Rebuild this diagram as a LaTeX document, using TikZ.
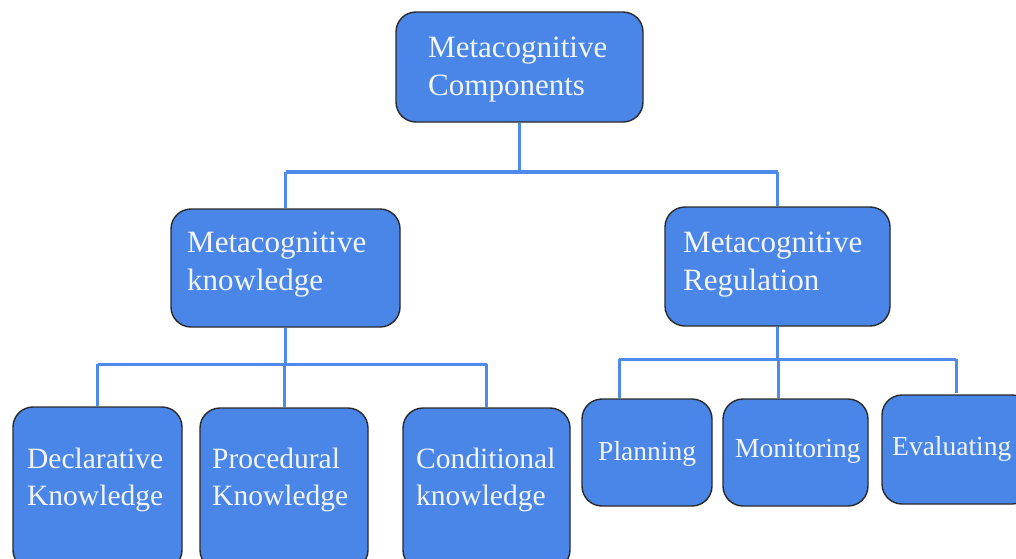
\documentclass[tikz,border=0pt]{standalone}
\usepackage{fontspec}
\setmainfont{Liberation Serif}
\usetikzlibrary{calc}
\definecolor{boxblue}{HTML}{4A86E8}
\definecolor{linkblue}{HTML}{4D8AEC}
\definecolor{edgegray}{HTML}{2A2A2A}
\definecolor{txtwhite}{HTML}{F3F5FA}
\begin{document}
\begin{tikzpicture}[x=1pt,y=-1pt,
  box/.style={draw=edgegray, line width=1.4pt, fill=boxblue, rounded corners=20pt, inner sep=0pt},
  lbl/.style={text=txtwhite, inner sep=0pt, align=left, font=\fontsize{31}{38}\selectfont},
  lblmd/.style={text=txtwhite, inner sep=0pt, align=left, font=\fontsize{29.5}{37}\selectfont},
  lblsm/.style={text=txtwhite, inner sep=0pt, align=left, font=\fontsize{27.5}{37}\selectfont},
  stem/.style={draw=linkblue, line width=3pt},
  bar/.style={draw=linkblue, line width=4.5pt}]
\clip (0,0) rectangle (1016,558);
\fill[white] (0,0) rectangle (1016,558);

% boxes
\node[box, minimum width=247pt, minimum height=110pt] (top) at (519.5,67) {};
\node[box, minimum width=229pt, minimum height=118pt] (mk) at (285.5,268) {};
\node[box, minimum width=225pt, minimum height=119pt] (mr) at (777.5,266.5) {};
\node[box, minimum width=169pt, minimum height=163pt] (dec) at (97.5,488.5) {};
\node[box, minimum width=168pt, minimum height=162pt] (pro) at (284,489) {};
\node[box, minimum width=167pt, minimum height=162pt] (con) at (486.5,489) {};
\node[box, minimum width=130pt, minimum height=107pt] (plan) at (647,452.5) {};
\node[box, minimum width=145pt, minimum height=107pt] (mon) at (795.5,452.5) {};
\node[box, minimum width=150pt, minimum height=109pt] (eva) at (957,449.5) {};

% labels (base anchor sits on the last line)
\node[lbl, anchor=base west] (topT) at (428,95) {Metacognitive\\Components};
\node[lbl, anchor=base west] (mkT) at (187,290) {Metacognitive\\knowledge};
\node[lbl, anchor=base west] (mrT) at (683,290) {Metacognitive\\Regulation};
\node[lblmd, anchor=base west] (decT) at (27,505) {Declarative\\Knowledge};
\node[lblmd, anchor=base west] (proT) at (212,505) {Procedural\\Knowledge};
\node[lblmd, anchor=base west] (conT) at (416,505) {Conditional\\knowledge};
\node[lblsm, anchor=base west] (planT) at (598,460) {Planning};
\node[lblsm, anchor=base west] (monT) at (735,457) {Monitoring};
\node[lblsm, anchor=base west] (evaT) at (892,455) {Evaluating};

% connector buses
\coordinate (busA) at (0,172);
\coordinate (busB) at (0,364);
\coordinate (busC) at (0,359);
\coordinate (planIn) at ($(plan.north west)+(38,0)$);
\coordinate (monIn) at ($(mon.north west)+(56,0)$);
\coordinate (evaIn) at ($(eva.north west)+(75,-1)$);

% first level
\draw[bar] (mk.north |- busA) -- (mr.north |- busA);
\draw[stem] (top.south) -- (top.south |- busA);
\draw[stem] (mk.north |- busA) -- (mk.north);
\draw[stem] (mr.north |- busA) -- (mr.north);

% knowledge branch
\draw[stem] (dec.north |- busB) -- (con.north |- busB);
\draw[stem] (mk.south) -- (mk.south |- busB);
\draw[stem] (dec.north |- busB) -- (dec.north);
\draw[stem] (pro.north |- busB) -- (pro.north);
\draw[stem] (con.north |- busB) -- (con.north);

% regulation branch
\draw[stem] (planIn |- busC) -- (evaIn |- busC);
\draw[stem] (mr.south) -- (mr.south |- busC);
\draw[stem] (planIn |- busC) -- (planIn);
\draw[stem] (monIn |- busC) -- (monIn);
\draw[stem] (evaIn |- busC) -- (evaIn);
\end{tikzpicture}
\end{document}
